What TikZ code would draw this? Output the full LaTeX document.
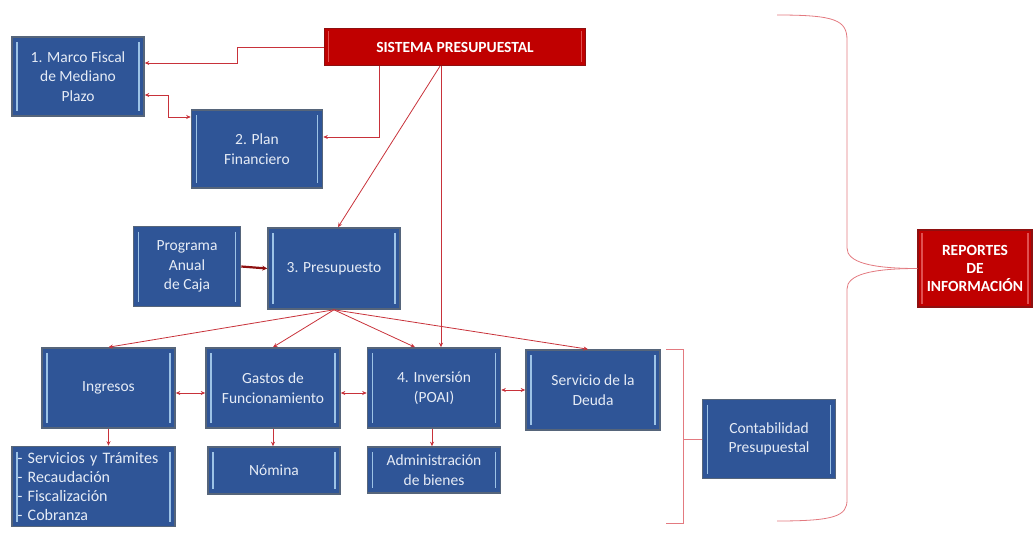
\documentclass[tikz,border=0pt]{standalone}
\usepackage{fontspec}
\setmainfont{Carlito}
\usetikzlibrary{arrows.meta}
\definecolor{boxblue}{HTML}{2F5597}
\definecolor{boxedge}{HTML}{56657A}
\definecolor{innerline}{HTML}{9DC3E6}
\definecolor{boxtext}{HTML}{E6ECF6}
\definecolor{redfill}{HTML}{C00000}
\definecolor{rededge}{HTML}{8E1010}
\definecolor{redline}{HTML}{E05050}
\definecolor{connred}{HTML}{C8323A}
\definecolor{brkred}{HTML}{E37A80}
\tikzset{
  bluebox/.style={draw=boxedge, line width=1.6pt, fill=boxblue, text=boxtext, align=center,
    inner sep=2pt, font=\fontsize{15.5}{19.5}\selectfont,
    path picture={
      \draw[innerline, line width=1.3pt]
        ([xshift=5pt,yshift=-5pt]path picture bounding box.north west) --
        ([xshift=5pt,yshift=5pt]path picture bounding box.south west);
      \draw[innerline, line width=1.3pt]
        ([xshift=-5pt,yshift=-5pt]path picture bounding box.north east) --
        ([xshift=-5pt,yshift=5pt]path picture bounding box.south east);
    }},
  redbox/.style={draw=rededge, line width=1.4pt, fill=redfill, text=white, align=center,
    inner sep=2pt, font=\fontsize{15.5}{18}\selectfont\bfseries,
    path picture={
      \draw[redline, line width=1.2pt]
        ([xshift=4pt,yshift=-3pt]path picture bounding box.north west) --
        ([xshift=4pt,yshift=3pt]path picture bounding box.south west);
      \draw[redline, line width=1.2pt]
        ([xshift=-4pt,yshift=-3pt]path picture bounding box.north east) --
        ([xshift=-4pt,yshift=3pt]path picture bounding box.south east);
    }},
  conn/.style={draw=connred, line width=0.8pt, -{Stealth[length=4.5pt,width=4pt]}},
  conntwo/.style={draw=connred, line width=0.8pt, {Stealth[length=4.5pt,width=4pt]}-{Stealth[length=4.5pt,width=4pt]}},
  brk/.style={draw=brkred, line width=0.8pt},
}
\begin{document}
\begin{tikzpicture}[x=1pt,y=-1pt]
\useasboundingbox (0,0) rectangle (1033,540);

% nodes
\node[bluebox, minimum width=132pt, minimum height=79pt] (mf) at (78,76.5) {1. Marco Fiscal\\de Mediano\\Plazo};
\node[redbox, minimum width=261pt, minimum height=37pt] (sp) at (455,47) {SISTEMA PRESUPUESTAL};
\node[bluebox, minimum width=131pt, minimum height=78pt] (pf) at (257,149) {2. Plan\\Financiero};
\node[bluebox, minimum width=107pt, minimum height=80pt] (pac) at (187,266.5) {Programa\\Anual\\de Caja};
\node[bluebox, minimum width=132pt, minimum height=81pt] (pre) at (334,268.5) {3. Presupuesto};
\node[bluebox, minimum width=133pt, minimum height=80pt] (ing) at (108.5,388) {Ingresos};
\node[bluebox, minimum width=134pt, minimum height=80pt] (gas) at (273,388) {Gastos de\\Funcionamiento};
\node[bluebox, minimum width=133pt, minimum height=80pt] (inv) at (434,388) {4. Inversión\\(POAI)};
\node[bluebox, minimum width=134pt, minimum height=80pt] (sdd) at (593,390) {Servicio de la\\Deuda};
\node[bluebox, minimum height=80pt, text width=152pt, inner xsep=5.5pt, inner ysep=1pt, align=left,
      font=\fontsize{16}{19}\selectfont] (srv) at (93.5,486.5)
      {- Servicios y Trámites\\- Recaudación\\- Fiscalización\\- Cobranza};
\node[bluebox, minimum width=132pt, minimum height=47pt] (nom) at (274,470.5) {Nómina};
\node[bluebox, minimum width=133pt, minimum height=46pt] (adm) at (434,470) {Administración\\de bienes};
\node[bluebox, minimum width=133pt, minimum height=79pt] (cont) at (769,439) {Contabilidad\\Presupuestal};
\node[redbox, minimum width=114pt, minimum height=77pt] (rep) at (975,268.5) {REPORTES\\DE\\INFORMACIÓN};

% connectors
\draw[conn] (sp.west) -- (237,47) |- ([yshift=13.5pt]mf.east);
\draw[conntwo] ([yshift=-18.5pt]mf.east) -- (168,95) |- ([yshift=32pt]pf.west);
\draw[conn] (sp.south -| 379,0) |- ([yshift=12pt]pf.east);
\draw[conn] (sp.south -| 440,0) -- ([xshift=4pt]pre.north);
\draw[conn] (sp.south -| 441,0) -- (inv.north -| 441,0);
\draw[draw=rededge, line width=2.2pt, -{Stealth[length=5pt,width=5pt]}] (pac.east) -- (pre.west);
\draw[conn] (pre.south) -- (ing.north);
\draw[conn] (pre.south) -- (gas.north);
\draw[conn] (pre.south) -- ([xshift=-19pt]inv.north);
\draw[conn] (pre.south) -- ([xshift=-5pt]sdd.north);
\draw[conntwo] ([yshift=-5pt]ing.east) -- ([yshift=-5pt]gas.west);
\draw[conntwo] ([yshift=-5pt]gas.east) -- ([yshift=-5pt]inv.west);
\draw[conntwo] (sdd.west -| inv.east) -- (sdd.west);
\draw[conn] (ing.south) -- (ing.south |- srv.north);
\draw[conn] (gas.south) -- (gas.south |- nom.north);
\draw[conn] ([xshift=-2pt]inv.south) -- ([xshift=-2pt]inv.south |- adm.north);

% brackets
\draw[brk] (666,349) -- (683,349) -- (683,523) -- (666,523);
\draw[brk] (683,439) -- (cont.west);
\draw[brk] (777,15) .. controls (835,15) and (847,20) .. (847,40) -- (847,248)
  .. controls (847,262) and (870,268.5) .. (rep.west);
\draw[brk] (rep.west) .. controls (870,268.5) and (847,275) .. (847,289) -- (847,500)
  .. controls (847,516) and (835,521) .. (777,521);
\end{tikzpicture}
\end{document}
